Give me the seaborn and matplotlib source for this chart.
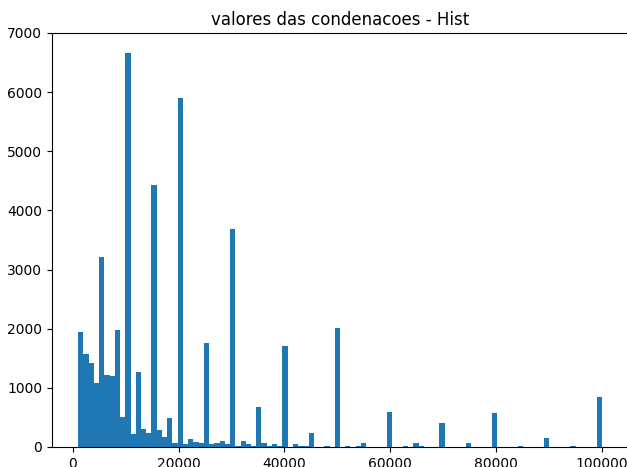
import numpy as np
import pandas as pd
import seaborn as sns
import matplotlib
matplotlib.use("Agg")
import matplotlib.pyplot as plt

# histogram of condemnation values, 100 bins between 1000 and 100000
bin_lo = 1000
bin_hi = 100000
counts = [
    1950, 1567, 1415, 1088, 3215, 1212, 1195, 1973, 502, 6670,
    214, 1268, 304, 242, 4425, 287, 175, 485, 62, 5900,
    45, 130, 90, 62, 1753, 45, 68, 107, 45, 3686,
    17, 107, 45, 17, 671, 62, 23, 45, 23, 1713,
    0, 45, 23, 23, 237, 0, 0, 23, 0, 2018,
    0, 23, 0, 23, 62, 0, 0, 0, 0, 586,
    0, 0, 23, 0, 62, 23, 0, 0, 0, 411,
    0, 0, 0, 0, 62, 0, 0, 0, 0, 569,
    0, 0, 0, 0, 23, 0, 0, 0, 0, 158,
    0, 0, 0, 0, 23, 0, 0, 0, 0, 845,
]
title = "valores das condenacoes - Hist"

edges = np.linspace(bin_lo, bin_hi, len(counts) + 1)
df = pd.DataFrame({"valor": (edges[:-1] + edges[1:]) / 2, "n": counts})

fig = plt.figure(figsize=(6.27, 4.67), dpi=100)
ax = fig.add_axes([52 / 627, 20 / 467, 576 / 627, 414 / 467])

sns.histplot(data=df, x="valor", weights="n", bins=len(counts),
             binrange=(bin_lo, bin_hi), color="#1f77b4",
             alpha=1, edgecolor="none", linewidth=0, ax=ax)

ax.set_ylim(0, 7000)
ax.set_xticks([0, 20000, 40000, 60000, 80000, 100000])
ax.set_xlabel("")
ax.set_ylabel("")
ax.set_title(title, fontsize=12)

fig.savefig("out.png", dpi=100)
